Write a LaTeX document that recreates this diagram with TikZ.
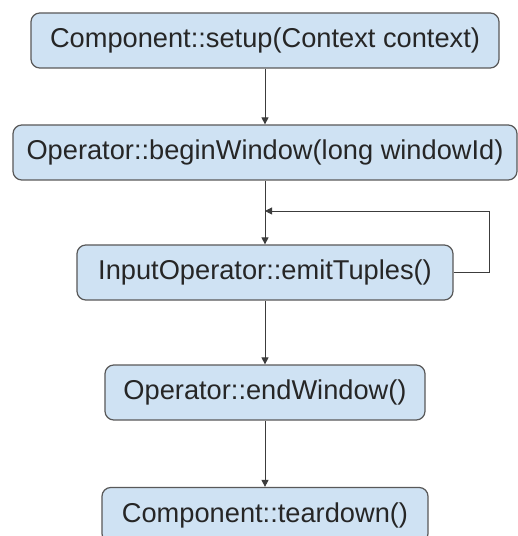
\documentclass[tikz,border=0pt]{standalone}
\usepackage{fontspec}
\setmainfont{Liberation Sans}
\usetikzlibrary{shapes.geometric, arrows.meta}
\definecolor{boxblue}{HTML}{CFE2F3}
\definecolor{boxline}{HTML}{595959}
\definecolor{lineclr}{HTML}{3C3C3C}

\begin{document}
\begin{tikzpicture}[node distance=2.4cm]

% Define block styles
\tikzstyle{block} = [rectangle, draw=boxline, line width=0.7pt, rounded corners=5pt, fill=boxblue, text=black!85, text centered, minimum height=1.1cm, font=\fontsize{15.5}{18}\selectfont]
\tikzstyle{arrow} = [draw=lineclr, line width=0.55pt, -{Triangle[length=4pt,width=4pt]}]

\useasboundingbox (-5.3,0.81) rectangle (5.04,-9.91);

% Nodes
\node (setup) [block, minimum width=9.36cm] {Component::setup(Context context)};
\node (beginwin) [block, below of=setup, yshift=0.16cm, minimum width=10.08cm] {Operator::beginWindow(long windowId)};
\node (emit) [block, below of=beginwin, minimum width=7.52cm] {InputOperator::emitTuples()};
\node (endwin) [block, below of=emit, minimum width=6.4cm] {Operator::endWindow()};
\node (teardown) [block, below of=endwin, yshift=-0.05cm, minimum width=6.52cm] {Component::teardown()};
\coordinate [node distance=1.17cm, below of=beginwin] (join);

% Arrows
\draw [arrow] (setup) -- (beginwin);
\draw [arrow] (beginwin) -- (emit);
\draw [arrow] (emit) -- (endwin);
\draw [arrow] (endwin) -- (teardown);

% Loop back
\draw [arrow] (emit.east) -- ++(0.72cm,0) |- (join);

\end{tikzpicture}
\end{document}
